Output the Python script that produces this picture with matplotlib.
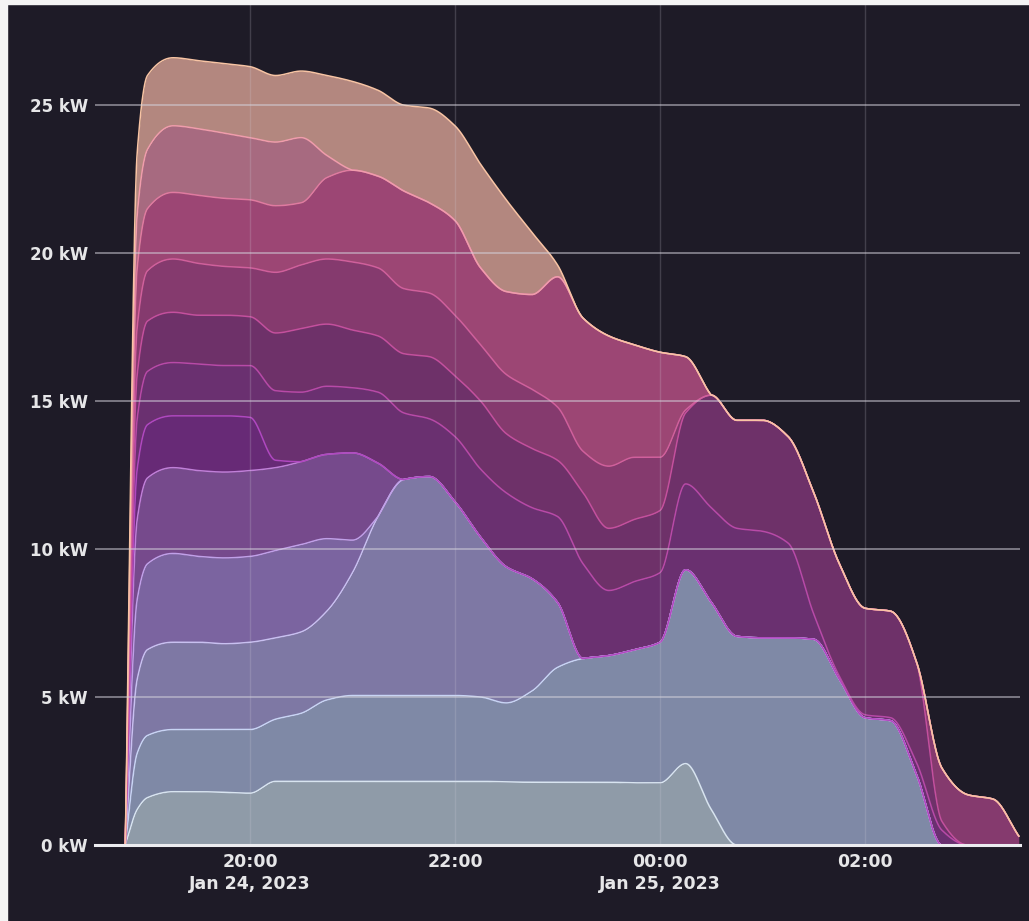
import numpy as np
import pandas as pd
import matplotlib
matplotlib.use("Agg")
import matplotlib.pyplot as plt
import matplotlib.dates as mdates
from matplotlib.patches import Rectangle

# sample times (Jan 24 evening -> Jan 25 early morning)
clock = ["18:47", "18:54", "19:00", "19:15", "19:30", "19:45", "20:00", "20:15", "20:30",
         "20:45", "21:00", "21:15", "21:30", "21:45", "22:00", "22:15", "22:30", "22:45",
         "23:00", "23:15", "23:30", "23:45", "00:00", "00:15", "00:30", "00:45", "01:00",
         "01:15", "01:30", "01:45", "02:00", "02:15", "02:30", "02:45", "03:00", "03:15",
         "03:30"]

# cumulative stack levels in kW (top of each layer), bottom layer first
level_1 = [0, 1.2, 1.6, 1.8, 1.8, 1.78, 1.75, 2.15, 2.15, 2.15, 2.15, 2.15, 2.15, 2.15, 2.15,
           2.15, 2.13, 2.12, 2.12, 2.12, 2.12, 2.1, 2.1, 2.75, 1.2, 0, 0, 0, 0, 0, 0, 0, 0, 0,
           0, 0, 0]
level_2 = [0, 3.1, 3.7, 3.9, 3.9, 3.9, 3.9, 4.25, 4.45, 4.9, 5.05, 5.05, 5.05, 5.05, 5.05,
           5.0, 4.8, 5.2, 6.0, 6.3, 6.4, 6.6, 6.85, 9.3, 8.2, 7.05, 7.0, 7.0, 6.95, 5.6, 4.3,
           4.2, 2.4, 0, 0, 0, 0]
level_3 = [0, 5.6, 6.6, 6.85, 6.85, 6.8, 6.85, 7.0, 7.2, 7.9, 9.2, 11.1, 12.35, 12.45, 11.6,
           10.4, 9.4, 9.0, 8.2, 6.3, 6.4, 6.6, 6.85, 9.3, 8.2, 7.05, 7.0, 7.0, 6.95, 5.6, 4.3,
           4.2, 2.4, 0, 0, 0, 0]
level_4 = [0, 8.3, 9.5, 9.85, 9.75, 9.7, 9.75, 9.95, 10.15, 10.35, 10.3, 11.1, 12.35, 12.45,
           11.6, 10.4, 9.4, 9.0, 8.2, 6.3, 6.4, 6.6, 6.85, 9.3, 8.2, 7.05, 7.0, 7.0, 6.95, 5.6,
           4.3, 4.2, 2.4, 0, 0, 0, 0]
level_5 = [0, 11.0, 12.4, 12.75, 12.65, 12.6, 12.65, 12.75, 12.95, 13.2, 13.25, 12.9, 12.35,
           12.45, 11.6, 10.4, 9.4, 9.0, 8.2, 6.3, 6.4, 6.6, 6.85, 9.3, 8.2, 7.05, 7.0, 7.0,
           6.95, 5.6, 4.3, 4.2, 2.4, 0, 0, 0, 0]
level_6 = [0, 12.7, 14.2, 14.5, 14.5, 14.5, 14.45, 13.0, 12.95, 13.2, 13.25, 12.9, 12.35,
           12.45, 11.6, 10.4, 9.4, 9.0, 8.2, 6.3, 6.4, 6.6, 6.85, 9.3, 8.2, 7.05, 7.0, 7.0,
           6.95, 5.6, 4.3, 4.2, 2.4, 0, 0, 0, 0]
level_7 = [0, 14.4, 16.0, 16.3, 16.25, 16.2, 16.2, 15.35, 15.3, 15.5, 15.45, 15.3, 14.6, 14.4,
           13.8, 12.7, 11.9, 11.4, 11.1, 9.5, 8.6, 8.9, 9.2, 12.2, 11.4, 10.7, 10.6, 10.2, 7.8,
           5.7, 4.4, 4.3, 2.8, 0.5, 0, 0, 0]
level_8 = [0, 15.9, 17.7, 18.0, 17.9, 17.9, 17.85, 17.3, 17.45, 17.6, 17.4, 17.2, 16.6, 16.5,
           15.85, 15.0, 13.9, 13.4, 13.0, 11.9, 10.7, 11.0, 11.3, 14.6, 15.2, 14.35, 14.35,
           13.8, 11.9, 9.5, 8.0, 7.9, 6.2, 0.8, 0, 0, 0]
level_9 = [0, 17.5, 19.4, 19.8, 19.65, 19.55, 19.5, 19.35, 19.6, 19.8, 19.7, 19.5, 18.8,
           18.65, 17.9, 16.9, 15.9, 15.4, 14.8, 13.3, 12.8, 13.1, 13.1, 14.7, 15.2, 14.35,
           14.35, 13.8, 11.9, 9.5, 8.0, 7.9, 6.2, 2.6, 1.7, 1.55, 0.3]
level_10 = [0, 19.5, 21.5, 22.05, 21.95, 21.85, 21.8, 21.6, 21.7, 22.55, 22.8, 22.6, 22.1,
            21.7, 21.1, 19.5, 18.7, 18.6, 19.2, 17.8, 17.2, 16.9, 16.65, 16.5, 15.2, 14.35,
            14.35, 13.8, 11.9, 9.5, 8.0, 7.9, 6.2, 2.6, 1.7, 1.55, 0.3]
level_11 = [0, 21.3, 23.5, 24.3, 24.2, 24.05, 23.9, 23.75, 23.9, 23.3, 22.8, 22.6, 22.1, 21.7,
            21.1, 19.5, 18.7, 18.6, 19.2, 17.8, 17.2, 16.9, 16.65, 16.5, 15.2, 14.35, 14.35,
            13.8, 11.9, 9.5, 8.0, 7.9, 6.2, 2.6, 1.7, 1.55, 0.3]
level_12 = [0, 23.4, 26.0, 26.6, 26.5, 26.4, 26.3, 26.0, 26.15, 26.0, 25.8, 25.5, 25.0, 24.9,
            24.3, 23.0, 21.8, 20.7, 19.6, 17.8, 17.2, 16.9, 16.65, 16.5, 15.2, 14.35, 14.35,
            13.8, 11.9, 9.5, 8.0, 7.9, 6.2, 2.6, 1.7, 1.55, 0.3]

levels = [level_1, level_2, level_3, level_4, level_5, level_6,
          level_7, level_8, level_9, level_10, level_11, level_12]

fill_colors = ["#8f9ba8", "#7f89a6", "#7e78a4", "#7b64a0", "#764a8c", "#672a76",
               "#6a3070", "#6e3169", "#853a6e", "#9c4674", "#a76a80", "#b3877f"]
line_colors = ["#d8e4f0", "#c8d4f4", "#c8c0f0", "#c0a0e8", "#c080d8", "#b048c0",
               "#b84aa8", "#c4509e", "#d0609c", "#e07aa0", "#f09cac", "#f8c4a4"]

y_ticks = [0, 5, 10, 15, 20, 25]
x_tick_times = ["2023-01-24 20:00", "2023-01-24 22:00", "2023-01-25 00:00", "2023-01-25 02:00"]
x_tick_labels = ["20:00\nJan 24, 2023", "22:00", "00:00\nJan 25, 2023", "02:00"]

bg = "#1e1b27"
txt = "#e6e6e8"


def to_stamp(hm):
    day = "2023-01-25" if int(hm[:2]) < 12 else "2023-01-24"
    return pd.Timestamp(f"{day} {hm}")


def pchip(x, y, xs):
    # monotone cubic, keeps the soft plateau look of the original splines
    x = np.asarray(x, float)
    y = np.asarray(y, float)
    h = np.diff(x)
    d = np.diff(y) / h
    m = np.zeros_like(y)
    for k in range(1, len(y) - 1):
        if d[k - 1] * d[k] > 0:
            w1 = 2 * h[k] + h[k - 1]
            w2 = h[k] + 2 * h[k - 1]
            m[k] = (w1 + w2) / (w1 / d[k - 1] + w2 / d[k])
    m[0] = d[0]
    m[-1] = d[-1]
    i = np.clip(np.searchsorted(x, xs) - 1, 0, len(x) - 2)
    t = (xs - x[i]) / h[i]
    h00 = 2 * t**3 - 3 * t**2 + 1
    h10 = t**3 - 2 * t**2 + t
    h01 = -2 * t**3 + 3 * t**2
    h11 = t**3 - t**2
    return h00 * y[i] + h10 * h[i] * m[i] + h01 * y[i + 1] + h11 * h[i] * m[i + 1]


xn = mdates.date2num([to_stamp(c).to_pydatetime() for c in clock])
xs = np.linspace(xn[0], xn[-1], 2000)
smooth = np.array([np.clip(pchip(xn, lv, xs), 0, None) for lv in levels])
smooth = np.maximum.accumulate(smooth, axis=0)

fig = plt.figure(figsize=(10.29, 9.21), dpi=100, facecolor=bg)
ax = fig.add_axes([95 / 1029, 76 / 921, 925 / 1029, 842 / 921])
ax.set_facecolor(bg)

xd = mdates.num2date(xs)
prev = np.zeros_like(xs)
for k in range(len(levels)):
    ax.fill_between(xd, prev, smooth[k], color=fill_colors[k], lw=0, zorder=2)
    prev = smooth[k]
for k in range(len(levels)):
    ax.plot(xd, smooth[k], color=line_colors[k], lw=1.1, zorder=3)

for v in y_ticks[1:]:
    ax.axhline(v, color="#d4d2dc", lw=1.3, alpha=0.55, zorder=4)
for t in x_tick_times:
    ax.axvline(pd.Timestamp(t), color="#d4d2dc", lw=1.0, alpha=0.2, zorder=4)
ax.axhline(0, color="#ececf0", lw=2.2, zorder=5, clip_on=False)

ax.set_xlim(pd.Timestamp("2023-01-24 18:29:18"), pd.Timestamp("2023-01-25 03:30:42"))
ax.set_ylim(0, 28.45)
ax.set_yticks(y_ticks)
ax.set_yticklabels([f"{v} kW" for v in y_ticks])
ax.set_xticks([pd.Timestamp(t) for t in x_tick_times])
ax.set_xticklabels(x_tick_labels)
ax.tick_params(axis="both", length=0, colors=txt)
ax.tick_params(axis="y", pad=5, labelsize=12)
ax.tick_params(axis="x", pad=6, labelsize=12.5)
for lab in ax.get_xticklabels() + ax.get_yticklabels():
    lab.set_fontweight("bold")
    lab.set_linespacing(1.25)
for s in ax.spines.values():
    s.set_visible(False)

# thin light frame from the screenshot edge
fig.patches.append(Rectangle((0, 0), 7 / 1029, 1, transform=fig.transFigure,
                             color="#f4f4f4", zorder=10))
fig.patches.append(Rectangle((0, 1 - 4 / 921), 1, 4 / 921, transform=fig.transFigure,
                             color="#f4f4f4", zorder=10))

fig.savefig("out.png", dpi=100, facecolor=bg)
